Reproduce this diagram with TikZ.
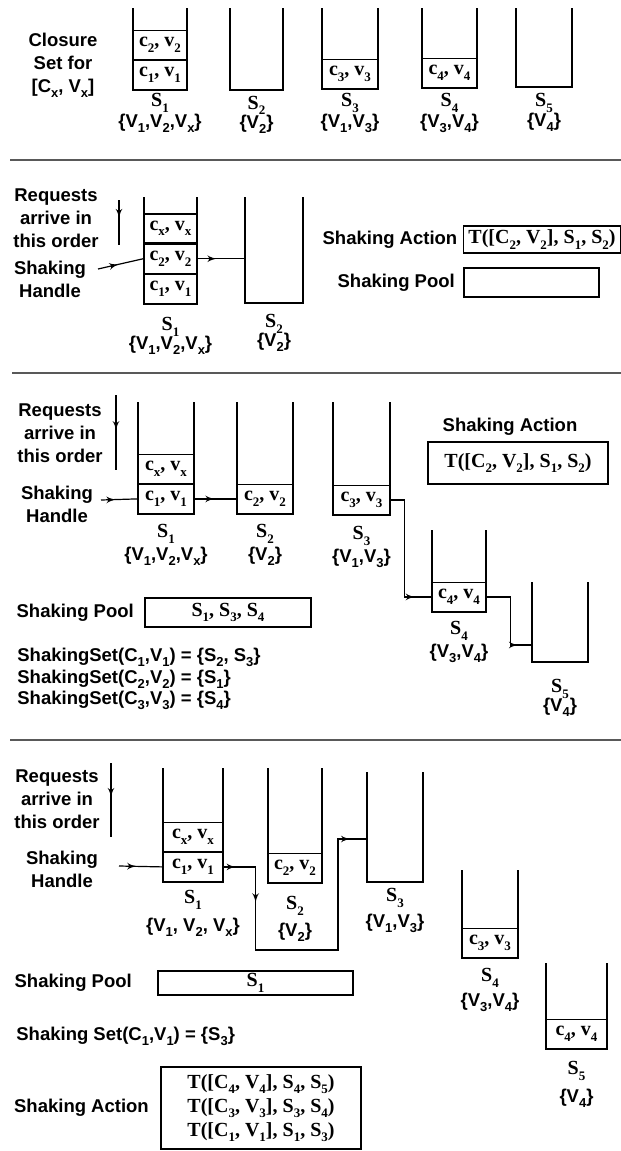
\documentclass[tikz,border=0pt]{standalone}
\usepackage{fontspec}
\setmainfont{Liberation Serif}
\setsansfont{Liberation Sans}
\newcommand{\sbs}[1]{\raisebox{-0.27em}{\fontsize{6.5}{7}\selectfont #1}}
\usepackage{tikz}
\usetikzlibrary{arrows,fit,calc,positioning,decorations.markings}
\definecolor{rulegray}{gray}{0.35}
\tikzset{bin/.style={inner sep=0pt, outer sep=0pt}}
\tikzset{wall/.style={draw, line width=1pt}}
\tikzset{cell/.style={draw, line width=0.6pt, inner sep=0pt, minimum width=#1, minimum height=14.5pt, font=\fontsize{10}{12}\selectfont\bfseries}, cell/.default=28pt}
\tikzset{stk/.style={inner sep=0pt, font=\fontsize{10}{12}\selectfont\bfseries}}
\tikzset{lbl/.style={inner sep=0pt, align=center, font=\fontsize{9.25}{11.5}\selectfont\sffamily\bfseries}}
\tikzset{act/.style={draw, line width=0.8pt, inner sep=0pt, align=center, font=\fontsize{10}{12}\selectfont\bfseries}}
\tikzset{link/.style={draw, line width=0.6pt}}
\tikzset{tip at/.style={postaction={decorate, decoration={markings, mark=at position #1 with {\arrow{latex'}}}}}}
\tikzset{sep/.style={draw=rulegray, line width=1pt}}
\newcommand{\walls}[1]{\draw[wall] (#1.north west) -- (#1.south west) -- (#1.south east) -- (#1.north east);}

\begin{document}
\begin{tikzpicture}[x=0.5pt, y=-0.5pt]
        \useasboundingbox (0,0) rectangle (621,1151);
        % closure set
        \node [lbl]                                 (p1txt)   at (63,65) {Closure\\Set for\\{[}C\sbs{x}, V\sbs{x}{]}};
        \node [bin, fit={(133,8) (187,90)}]         (p1b1)    {};
        \node [bin, fit={(230,8) (283,90)}]         (p1b2)    {};
        \node [bin, fit={(322,8) (378,89)}]         (p1b3)    {};
        \node [bin, fit={(422,8) (477,88)}]         (p1b4)    {};
        \node [bin, fit={(516,8) (572,87)}]         (p1b5)    {};
        \node [cell=27pt, above=0pt of p1b1.south]  (p1c1)    {c\sbs{1}, v\sbs{1}};
        \node [cell=27pt, above=0pt of p1c1]        (p1c2)    {c\sbs{2}, v\sbs{2}};
        \node [cell, above=0pt of p1b3.south]       (p1c3)    {c\sbs{3}, v\sbs{3}};
        \node [cell=27.5pt, above=0pt of p1b4.south] (p1c4)   {c\sbs{4}, v\sbs{4}};
        \node [stk, below=1.6pt of p1b1]            (p1s1)    {S\sbs{1}};
        \node [stk, below=2.8pt of p1b2]            (p1s2)    {S\sbs{2}};
        \node [stk, below=2.1pt of p1b3]            (p1s3)    {S\sbs{3}};
        \node [stk, below=2.6pt of p1b4]            (p1s4)    {S\sbs{4}};
        \node [stk, below=3.1pt of p1b5]            (p1s5)    {S\sbs{5}};
        \node [lbl, below=0.6pt of p1s1]            (p1v1)    {\{V\sbs{1},V\sbs{2},V\sbs{x}\}};
        \node [lbl, below=-0.4pt of p1s2]           (p1v2)    {\{V\sbs{2}\}};
        \node [lbl, below=0.6pt of p1s3]            (p1v3)    {\{V\sbs{1},V\sbs{3}\}};
        \node [lbl, below=0.6pt of p1s4]            (p1v4)    {\{V\sbs{3},V\sbs{4}\}};
        \node [lbl, below=0pt of p1s5]              (p1v5)    {\{V\sbs{4}\}};
        \foreach \b in {p1b1,p1b2,p1b3,p1b4,p1b5} {\walls{\b}}
        \draw [sep] (10,160) -- (621,160);
        %
        % one shaking step
        \node [lbl]                                 (p2req)   at (56,218) {Requests\\arrive in\\this order};
        \node [lbl]                                 (p2hdl)   at (50,279) {Shaking\\Handle};
        \node [bin, fit={(144,197) (197,304)}]      (p2b1)    {};
        \node [bin, fit={(245,197) (303,303)}]      (p2b2)    {};
        \node [cell=26.5pt, above=0pt of p2b1.south] (p2c1)   {c\sbs{1}, v\sbs{1}};
        \node [cell=26.5pt, above=0pt of p2c1]      (p2c2)    {c\sbs{2}, v\sbs{2}};
        \node [cell=26.5pt, above=0pt of p2c2]      (p2cx)    {c\sbs{x}, v\sbs{x}};
        \node [stk, below=6.6pt of p2b1]            (p2s1)    {S\sbs{1}};
        \node [stk, below=5.6pt of p2b2]            (p2s2)    {S\sbs{2}};
        \node [lbl, below=-0.3pt of p2s1]           (p2v1)    {\{V\sbs{1},V\sbs{2},V\sbs{x}\}};
        \node [lbl, below=-0.3pt of p2s2]           (p2v2)    {\{V\sbs{2}\}};
        \foreach \b in {p2b1,p2b2} {\walls{\b}}
        \node [act, minimum width=78.5pt, minimum height=13.5pt] (p2act) at (542,239.5) {T([C\sbs{2}, V\sbs{2}], S\sbs{1}, S\sbs{2})};
        \node [lbl, left=2.5pt of p2act]            (p2acttxt) {Shaking Action};
        \node [act, minimum width=67.5pt, minimum height=14.5pt] (p2pool) at (531.5,282.5) {};
        \node [lbl, left=4pt of p2pool]             (p2pooltxt) {Shaking Pool};
        \coordinate (p2in)   at (119,200);
        \coordinate (p2out)  at (119,245);
        \coordinate (p2grab) at (98,269);
        \draw [link, tip at=0.4]  (p2in) -- (p2out);
        \draw [link, tip at=0.45] (p2grab) -- (p2c2.west);
        \draw [link, tip at=0.4]  (p2c2.east) -- (p2c2.east -| p2b2.west);
        \draw [sep] (12,373) -- (621,373);
        %
        % shaking chain
        \node [lbl]                                 (p3req)   at (60,433) {Requests\\arrive in\\this order};
        \node [lbl]                                 (p3hdl)   at (57,504) {Shaking\\Handle};
        \node [bin, fit={(138,402) (194,514)}]      (p3b1)    {};
        \node [bin, fit={(237,402) (293,514)}]      (p3b2)    {};
        \node [bin, fit={(333,402) (390,515)}]      (p3b3)    {};
        \node [bin, fit={(432,530) (486,612)}]      (p3b4)    {};
        \node [bin, fit={(532,582) (588,662)}]      (p3b5)    {};
        \node [cell, above=0pt of p3b1.south]       (p3c1)    {c\sbs{1}, v\sbs{1}};
        \node [cell, above=0pt of p3c1]             (p3cx)    {c\sbs{x}, v\sbs{x}};
        \node [cell, above=0pt of p3b2.south]       (p3c2)    {c\sbs{2}, v\sbs{2}};
        \node [cell=28.5pt, above=0pt of p3b3.south] (p3c3)   {c\sbs{3}, v\sbs{3}};
        \node [cell=27pt, above=0pt of p3b4.south]  (p3c4)    {c\sbs{4}, v\sbs{4}};
        \node [stk, below=5.1pt of p3b1]            (p3s1)    {S\sbs{1}};
        \node [stk, below=5.1pt of p3b2]            (p3s2)    {S\sbs{2}};
        \node [stk, below=5.6pt of p3b3]            (p3s3)    {S\sbs{3}};
        \node [stk, below=4.6pt of p3b4]            (p3s4)    {S\sbs{4}};
        \node [stk, below=8.6pt of p3b5]            (p3s5)    {S\sbs{5}};
        \node [lbl, below=1.6pt of p3s1]            (p3v1)    {\{V\sbs{1},V\sbs{2},V\sbs{x}\}};
        \node [lbl, below=1.6pt of p3s2]            (p3v2)    {\{V\sbs{2}\}};
        \node [lbl, below=1.6pt of p3s3]            (p3v3)    {\{V\sbs{1},V\sbs{3}\}};
        \node [lbl, below=1.6pt of p3s4]            (p3v4)    {\{V\sbs{3},V\sbs{4}\}};
        \node [lbl, below=-0.3pt of p3s5]           (p3v5)    {\{V\sbs{4}\}};
        \foreach \b in {p3b1,p3b2,p3b3,p3b4,p3b5} {\walls{\b}}
        \node [act, minimum width=90pt, minimum height=21pt] (p3act) at (518,463) {T([C\sbs{2}, V\sbs{2}], S\sbs{1}, S\sbs{2})};
        \node [lbl, above=2.6pt of p3act, xshift=-4pt] (p3acttxt) {Shaking Action};
        \node [act, minimum width=83pt, minimum height=14.5pt] (p3pool) at (228,612.5) {S\sbs{1}, S\sbs{3}, S\sbs{4}};
        \node [lbl, left=5pt of p3pool]             (p3pooltxt) {Shaking Pool};
        \node [lbl, align=left, anchor=west, font=\fontsize{9.25}{10.75}\selectfont\sffamily\bfseries] (p3sets) at (17,679)
              {ShakingSet(C\sbs{1},V\sbs{1}) = \{S\sbs{2}, S\sbs{3}\}\\ShakingSet(C\sbs{2},V\sbs{2}) = \{S\sbs{1}\}\\ShakingSet(C\sbs{3},V\sbs{3}) = \{S\sbs{4}\}};
        \coordinate (p3in)   at (116,395);
        \coordinate (p3out)  at (116,470);
        \coordinate (p3grab) at (101,500);
        \draw [link, tip at=0.47] (p3in) -- (p3out);
        \draw [link, tip at=0.4]  (p3grab) -- (p3c1.west);
        \draw [link, tip at=0.47] (p3c1.east) -- (p3c1.east -| p3b2.west);
        \draw [link, tip at=0.88] (p3c3.east) -- ++(14,0) |- (p3c4.west);
        \draw [link, tip at=0.85] (p3c4.east) -- ++(24,0) |- ([yshift=-11.5pt]p3b5.west);
        \draw [sep] (10,740) -- (621,740);
        %
        % after the chain
        \node [lbl]                                 (p4req)   at (57,799) {Requests\\arrive in\\this order};
        \node [lbl]                                 (p4hdl)   at (62,869) {Shaking\\Handle};
        \node [bin, fit={(163,768) (223,882)}]      (p4b1)    {};
        \node [bin, fit={(268,768) (322,883)}]      (p4b2)    {};
        \node [bin, fit={(367,772) (423,882)}]      (p4b3)    {};
        \node [bin, fit={(462,870) (518,958)}]      (p4b4)    {};
        \node [bin, fit={(546,963) (607,1049)}]     (p4b5)    {};
        \node [cell=30pt, above=0pt of p4b1.south]  (p4c1)    {c\sbs{1}, v\sbs{1}};
        \node [cell=30pt, above=0pt of p4c1]        (p4cx)    {c\sbs{x}, v\sbs{x}};
        \node [cell=27pt, above=0pt of p4b2.south]  (p4c2)    {c\sbs{2}, v\sbs{2}};
        \node [cell, above=0pt of p4b4.south]       (p4c3)    {c\sbs{3}, v\sbs{3}};
        \node [cell=30.5pt, above=0pt of p4b5.south] (p4c4)   {c\sbs{4}, v\sbs{4}};
        \node [stk, below=4.1pt of p4b1]            (p4s1)    {S\sbs{1}};
        \node [stk, below=6.6pt of p4b2]            (p4s2)    {S\sbs{2}};
        \node [stk, below=3.1pt of p4b3]            (p4s3)    {S\sbs{3}};
        \node [stk, below=5.1pt of p4b4]            (p4s4)    {S\sbs{4}};
        \node [stk, below=6.1pt of p4b5]            (p4s5)    {S\sbs{5}};
        \node [lbl, below=3.9pt of p4s1]            (p4v1)    {\{V\sbs{1}, V\sbs{2}, V\sbs{x}\}};
        \node [lbl, below=3.4pt of p4s2]            (p4v2)    {\{V\sbs{2}\}};
        \node [lbl, below=2.9pt of p4s3]            (p4v3)    {\{V\sbs{1},V\sbs{3}\}};
        \node [lbl, below=2.4pt of p4s4]            (p4v4)    {\{V\sbs{3},V\sbs{4}\}};
        \node [lbl, below=3.9pt of p4s5]            (p4v5)    {\{V\sbs{4}\}};
        \foreach \b in {p4b1,p4b2,p4b3,p4b4,p4b5} {\walls{\b}}
        \node [act, minimum width=97.5pt, minimum height=12pt] (p4pool) at (255.5,983) {S\sbs{1}};
        \node [lbl, left=12.5pt of p4pool]          (p4pooltxt) {Shaking Pool};
        \node [lbl, anchor=west]                    (p4set)   at (16,1036) {Shaking Set(C\sbs{1},V\sbs{1}) = \{S\sbs{3}\}};
        \node [act, minimum width=100pt, minimum height=41pt] (p4act) at (261,1108)
              {T([C\sbs{4}, V\sbs{4}], S\sbs{4}, S\sbs{5})\\T([C\sbs{3}, V\sbs{3}], S\sbs{3}, S\sbs{4})\\T([C\sbs{1}, V\sbs{1}], S\sbs{1}, S\sbs{3})};
        \node [lbl, left=5.5pt of p4act]            (p4acttxt) {Shaking Action};
        \coordinate (p4in)   at (111,763);
        \coordinate (p4out)  at (111,837);
        \coordinate (p4grab) at (119,866);
        \coordinate (p4low)  at (338,950);
        \draw [link, tip at=0.46] (p4in) -- (p4out);
        \draw [link, tip at=0.4]  (p4grab) -- (p4c1.west);
        \draw [link, tip at=0.036, tip at=0.2, tip at=0.95] (p4c1.east) -- ++(32,0) |- (p4low) |- ([yshift=-6pt]p4b3.west);
    \end{tikzpicture}
\end{document}
